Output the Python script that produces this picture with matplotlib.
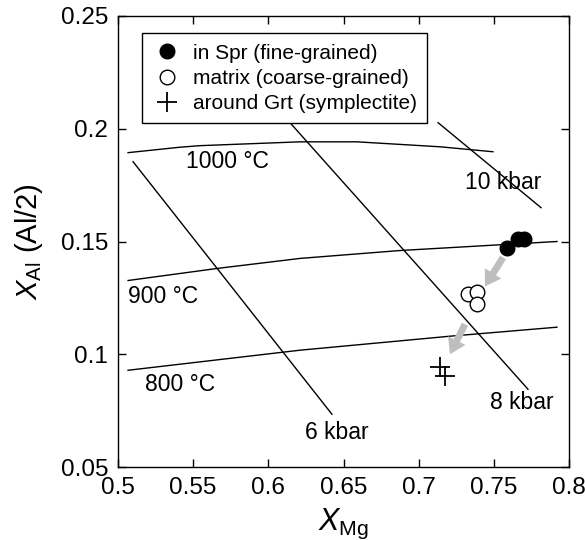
import matplotlib
matplotlib.use("Agg")
import matplotlib.pyplot as plt

plt.rcParams['font.family'] = ['Liberation Sans', 'DejaVu Sans']
plt.rcParams['mathtext.fontset'] = 'custom'
plt.rcParams['mathtext.rm'] = 'Liberation Sans'
plt.rcParams['mathtext.it'] = 'Liberation Sans:italic'

# isotherms (XMg, XAl)
t1000_x = [0.5067, 0.541, 0.5545, 0.6211, 0.659, 0.7142, 0.7494]
t1000_y = [0.1894, 0.1918, 0.1925, 0.1942, 0.1942, 0.1920, 0.1898]
t900_x = [0.5067, 0.5665, 0.6211, 0.6876, 0.792]
t900_y = [0.1327, 0.1381, 0.1425, 0.1460, 0.1500]
t800_x = [0.5067, 0.6211, 0.7208, 0.792]
t800_y = [0.0929, 0.1018, 0.1080, 0.1120]

# isobars
p6_x = [0.510, 0.6423]
p6_y = [0.1854, 0.0734]
p8_x = [0.6144, 0.7727]
p8_y = [0.2027, 0.0845]
p10_x = [0.7129, 0.7814]
p10_y = [0.2027, 0.1650]

# measured compositions
spr_x = [0.7588, 0.7661, 0.7700]
spr_y = [0.1469, 0.1509, 0.1509]
mtx_x = [0.7328, 0.7388, 0.7388]
mtx_y = [0.1265, 0.1274, 0.1225]
sym_x = [0.7142, 0.7175]
sym_y = [0.0942, 0.0903]

# arrows (start, end)
arrows = [((0.7561, 0.1429), (0.7441, 0.1301)),
          ((0.7308, 0.1133), (0.7208, 0.1000))]

labels = [("1000 °C", 0.573, 0.1854), ("900 °C", 0.5067, 0.1257),
          ("800 °C", 0.518, 0.0867), ("10 kbar", 0.756, 0.176),
          ("8 kbar", 0.7687, 0.0788), ("6 kbar", 0.6457, 0.0655)]

fig = plt.figure(figsize=(5.85, 5.4), dpi=100)
ax = fig.add_axes([118 / 585, 1 - 467 / 540, 451 / 585, 451 / 540])

lw = 1.0
for xs, ys in [(t1000_x, t1000_y), (t900_x, t900_y), (t800_x, t800_y),
               (p6_x, p6_y), (p8_x, p8_y), (p10_x, p10_y)]:
    ax.plot(xs, ys, color='black', lw=lw)

for (x0, y0), (x1, y1) in arrows:
    ax.annotate('', xy=(x1, y1), xytext=(x0, y0),
                arrowprops=dict(arrowstyle='simple,head_width=1.4,head_length=1.1,tail_width=0.5',
                                color='#bebebe', lw=0, shrinkA=0, shrinkB=0,
                                mutation_scale=10))

ax.plot(spr_x, spr_y, 'o', color='black', ms=10.5, ls='none', label='in Spr (fine-grained)')
ax.plot(mtx_x, mtx_y, 'o', mfc='white', mec='black', mew=1.0, ms=10.5, ls='none',
        label='matrix (coarse-grained)')
ax.plot(sym_x, sym_y, '+', color='black', ms=14, mew=1.3, ls='none',
        label='around Grt (symplectite)')

for txt, x, y in labels:
    ha = 'left' if txt in ("900 °C", "800 °C") else 'center'
    ax.text(x, y, txt, fontsize=16.5, ha=ha, va='center')

ax.set_xlim(0.5, 0.8)
ax.set_ylim(0.05, 0.25)
ax.set_xticks([0.5, 0.55, 0.6, 0.65, 0.7, 0.75, 0.8])
ax.set_xticklabels(['0.5', '0.55', '0.6', '0.65', '0.7', '0.75', '0.8'])
ax.set_yticks([0.05, 0.1, 0.15, 0.2, 0.25])
ax.set_yticklabels(['0.05', '0.1', '0.15', '0.2', '0.25'])
ax.tick_params(direction='in', top=True, right=True, length=6, width=1.0,
               labelsize=17.5, pad=7)
for s in ax.spines.values():
    s.set_linewidth(1.0)

ax.set_xlabel(r'$\mathit{X}_{\mathrm{Mg}}$', fontsize=22, labelpad=6)
ax.set_ylabel(r'$\mathit{X}_{\mathrm{Al}}$ (Al/2)', fontsize=21, labelpad=11)

leg = ax.legend(loc='upper left', bbox_to_anchor=(0.053, 0.962), borderaxespad=0,
                fontsize=15, frameon=True, fancybox=False, framealpha=1,
                edgecolor='black', handlelength=1.4, handletextpad=0.55,
                labelspacing=0.3, borderpad=0.5, numpoints=1)
leg.get_frame().set_linewidth(1.0)

fig.savefig('out.png', dpi=100)
